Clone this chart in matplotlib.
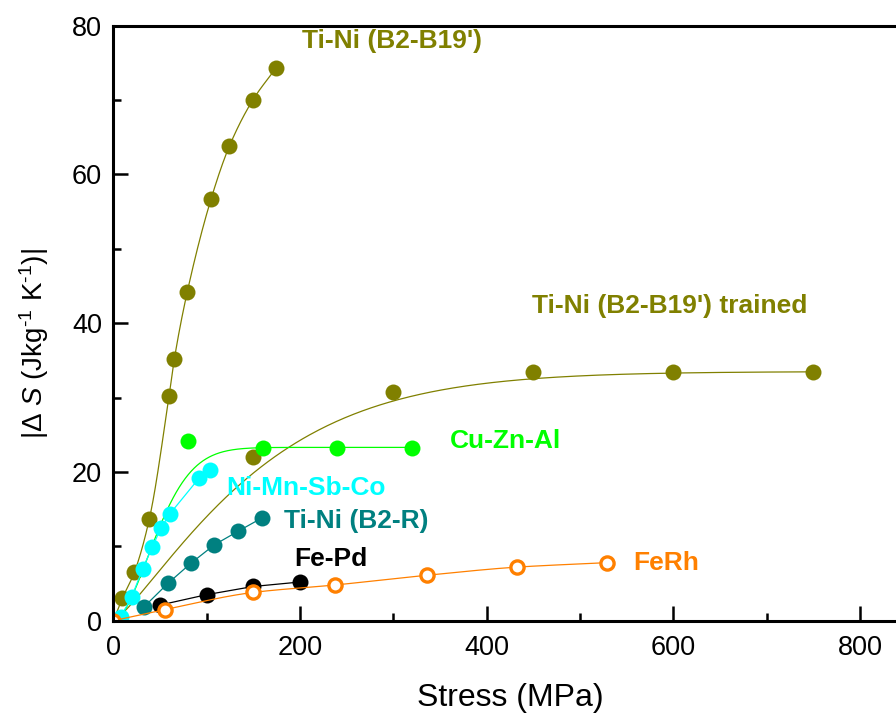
import numpy as np
import matplotlib
matplotlib.use("Agg")
import matplotlib.pyplot as plt

plt.rcParams["font.family"] = ["Liberation Sans", "DejaVu Sans"]
plt.rcParams["mathtext.fontset"] = "custom"
plt.rcParams["mathtext.rm"] = "Liberation Sans"
plt.rcParams["mathtext.it"] = "Liberation Sans:slant=italic"

# Ti-Ni (B2-B19')
tini_x = [0, 9.6, 22.5, 38.6, 59.7, 65.4, 79.2, 104.7, 124.3, 149.4, 174.3]
tini_y = [0, 3.0, 6.5, 13.7, 30.2, 35.2, 44.2, 56.7, 63.8, 70.0, 74.3]

# Ti-Ni (B2-B19') trained
trained_x = [150, 300, 450, 600, 750]
trained_y = [22.0, 30.8, 33.5, 33.4, 33.5]
trained_fit = (33.5, 163.5, 1.25)  # a, b, c of a*(1-exp(-(x/b)^c))

# Cu-Zn-Al
cuznal_x = [80, 160, 240, 320]
cuznal_y = [24.2, 23.2, 23.2, 23.2]
cuznal_fit = (23.3, 57.0, 1.8)

# Ni-Mn-Sb-Co
nimn_x = [0, 7.9, 19.7, 31.5, 41.8, 51.1, 60.8, 92.1, 103.6]
nimn_y = [0, 0.5, 3.2, 7.0, 9.9, 12.5, 14.4, 19.2, 20.2]

# Ti-Ni (B2-R)
tinir_x = [33.2, 58.3, 82.9, 108.2, 133.3, 159.0]
tinir_y = [1.9, 5.0, 7.7, 10.2, 12.0, 13.8]

# Fe-Pd
fepd_x = [50, 100, 150, 200]
fepd_y = [2.1, 3.5, 4.6, 5.2]

# FeRh
ferh_x = [0, 55.4, 150, 237.5, 335.6, 432.2, 528.6]
ferh_y = [0, 1.5, 3.8, 4.8, 6.1, 7.2, 7.8]


def pchip(x, y, xs):
    x = np.asarray(x, float)
    y = np.asarray(y, float)
    h = np.diff(x)
    d = np.diff(y) / h
    m = np.zeros_like(x)
    for k in range(1, len(x) - 1):
        if d[k - 1] * d[k] > 0:
            w1 = 2 * h[k] + h[k - 1]
            w2 = h[k] + 2 * h[k - 1]
            m[k] = (w1 + w2) / (w1 / d[k - 1] + w2 / d[k])
    m[0] = d[0]
    m[-1] = d[-1]
    idx = np.clip(np.searchsorted(x, xs) - 1, 0, len(x) - 2)
    t = (xs - x[idx]) / h[idx]
    h00 = 2 * t**3 - 3 * t**2 + 1
    h10 = t**3 - 2 * t**2 + t
    h01 = -2 * t**3 + 3 * t**2
    h11 = t**3 - t**2
    return h00 * y[idx] + h10 * h[idx] * m[idx] + h01 * y[idx + 1] + h11 * h[idx] * m[idx + 1]


def weibull(xs, a, b, c):
    return a * (1 - np.exp(-((xs / b) ** c)))


olive = "#808000"
green = "#00ff00"
cyan = "#00ffff"
teal = "#008080"
orange = "#ff8000"

fig = plt.figure(figsize=(8.96, 7.14), dpi=100)
ax = fig.add_axes([0.1265, 0.1307, 0.8854, 0.8333])

ms = 11.5
lw = 0.9

xs = np.linspace(0, tini_x[-1], 300)
ax.plot(xs, pchip(tini_x, tini_y, xs), color=olive, lw=lw)
ax.plot(tini_x[1:], tini_y[1:], "o", color=olive, ms=ms, mec="none")

xs = np.linspace(0, trained_x[-1], 400)
ax.plot(xs, weibull(xs, *trained_fit), color=olive, lw=lw)
ax.plot(trained_x, trained_y, "o", color=olive, ms=ms, mec="none")

xs = np.linspace(0, cuznal_x[-1], 400)
ax.plot(xs, weibull(xs, *cuznal_fit), color=green, lw=lw)
ax.plot(cuznal_x, cuznal_y, "o", color=green, ms=ms, mec="none")

ax.plot(nimn_x, nimn_y, "-", color=cyan, lw=lw)
ax.plot(nimn_x[1:], nimn_y[1:], "o", color=cyan, ms=ms, mec="none")

ax.plot(tinir_x, tinir_y, "-o", color=teal, lw=lw, ms=ms, mec="none")

ax.plot(fepd_x, fepd_y, "-o", color="black", lw=lw, ms=ms, mec="none")

xs = np.linspace(0, ferh_x[-1], 400)
ax.plot(xs, pchip(ferh_x, ferh_y, xs), color=orange, lw=lw)
ax.plot(ferh_x, ferh_y, "o", mfc="white", mec=orange, mew=2.4, ms=9.5)

fs = 19
ax.text(201.9, 77.0, "Ti-Ni (B2-B19')", color=olive, fontsize=fs, fontweight="bold")
ax.text(448.3, 41.4, "Ti-Ni (B2-B19') trained", color=olive, fontsize=fs, fontweight="bold")
ax.text(360.8, 23.2, "Cu-Zn-Al", color=green, fontsize=fs, fontweight="bold")
ax.text(120.8, 16.9, "Ni-Mn-Sb-Co", color=cyan, fontsize=fs, fontweight="bold")
ax.text(183.0, 12.5, "Ti-Ni (B2-R)", color=teal, fontsize=fs, fontweight="bold")
ax.text(193.6, 7.3, "Fe-Pd", color="black", fontsize=fs, fontweight="bold")
ax.text(556.8, 6.8, "FeRh", color=orange, fontsize=fs, fontweight="bold")

ax.set_xlim(0, 850)
ax.set_ylim(0, 80)
ax.set_xticks([0, 200, 400, 600, 800])
ax.set_xticks([100, 300, 500, 700], minor=True)
ax.set_yticks([0, 20, 40, 60, 80])
ax.set_yticks([10, 30, 50, 70], minor=True)
ax.tick_params(which="both", direction="in", width=1.8, labelsize=19.5, pad=8)
ax.tick_params(which="major", length=11)
ax.tick_params(which="minor", length=6)
ax.tick_params(axis="x", pad=10)
for s in ["left", "bottom", "top"]:
    ax.spines[s].set_linewidth(2.2)
ax.spines["right"].set_visible(False)

ax.set_xlabel("Stress (MPa)", fontsize=23, labelpad=16)
ax.set_ylabel(r"|$\Delta$ $\mathit{S}$ (Jkg$^{\text{-}1}$ K$^{\text{-}1}$)|", fontsize=20)
ax.yaxis.set_label_coords(-0.078, 0.466)

fig.savefig("out.png", dpi=100)
